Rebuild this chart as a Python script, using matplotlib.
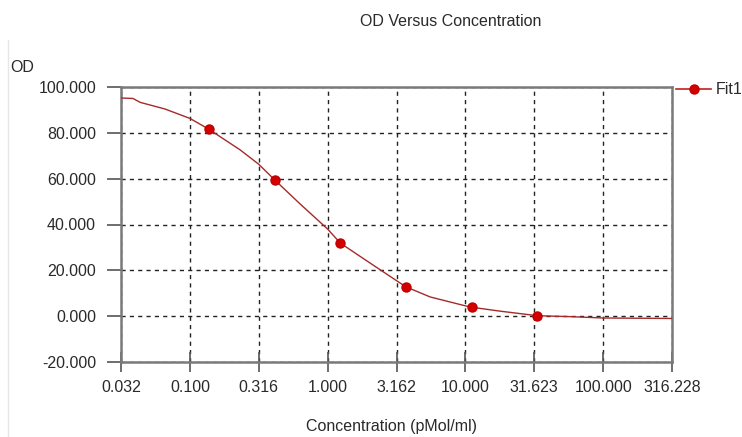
import matplotlib
matplotlib.use("Agg")
import matplotlib.pyplot as plt
from matplotlib.lines import Line2D

plt.rcParams['font.family'] = ['Liberation Sans', 'DejaVu Sans']

# Data
point_conc = [0.137, 0.412, 1.235, 3.70, 11.1, 33.3]
point_od = [81.6, 59.5, 31.9, 12.8, 3.9, 0.2]

curve_conc = [0.0316, 0.0386, 0.0435, 0.0659, 0.1, 0.137, 0.231, 0.316, 0.412,
              0.63, 1.0, 1.235, 2.03, 3.162, 3.70, 5.54, 10.0, 11.1, 17.8,
              33.3, 57.5, 100.0, 316.228]
curve_od = [95.2, 95.0, 93.3, 90.4, 86.3, 81.6, 72.6, 66.3, 59.5,
            49.0, 38.0, 31.9, 23.2, 15.5, 12.8, 8.4, 4.5, 3.9, 2.2,
            0.2, -0.2, -0.8, -1.0]

x_ticks = [0.0316, 0.1, 0.316, 1.0, 3.162, 10.0, 31.623, 100.0, 316.228]
x_tick_labels = ['0.032', '0.100', '0.316', '1.000', '3.162', '10.000',
                 '31.623', '100.000', '316.228']
y_ticks = [-20, 0, 20, 40, 60, 80, 100]
y_tick_labels = ['-20.000', '0.000', '20.000', '40.000', '60.000', '80.000', '100.000']

FS = 11.5
W, H = 742, 437
fig = plt.figure(figsize=(W / 100, H / 100), dpi=100)
ax = fig.add_axes([121 / W, 1 - 362 / H, (672 - 121) / W, (362 - 87) / H])

ax.set_xscale('log')
ax.set_xlim(x_ticks[0], x_ticks[-1])
ax.set_ylim(-20, 100)
ax.set_xticks(x_ticks)
ax.set_xticklabels(x_tick_labels)
ax.minorticks_off()
ax.set_yticks(y_ticks)
ax.set_yticklabels(y_tick_labels)

ax.grid(True, color='#222222', linestyle=(0, (3, 3)), linewidth=1.0)
ax.set_axisbelow(True)

for s in ax.spines.values():
    s.set_color('#7a7a7a')
    s.set_linewidth(1.8)

ax.tick_params(axis='both', colors='#555555', labelcolor='#2a2a2a',
               labelsize=FS, width=1.2)
ax.tick_params(axis='x', direction='inout', length=14, pad=6)
ax.tick_params(axis='y', direction='out', length=10, pad=8)

ax.plot(curve_conc, curve_od, color='#a52a2a', linewidth=1.0, zorder=3)
ax.plot(point_conc, point_od, linestyle='none', marker='o', markersize=6.5,
        color='#d40000', markeredgecolor='#c00000', zorder=4)

handle = Line2D([], [], color='#c02020', linewidth=1.2, marker='o',
                markersize=6.5, markerfacecolor='#d40000', markeredgecolor='#c00000')
leg = ax.legend([handle], ['Fit1'], loc='center left',
                bbox_to_anchor=(673 / W, 1 - 90 / H), bbox_transform=fig.transFigure,
                frameon=False, handlelength=2.2, fontsize=FS, handletextpad=0.3,
                borderaxespad=0.0, borderpad=0.2)
for t in leg.get_texts():
    t.set_color('#2a2a2a')

fig.text(451 / W, 1 - 22 / H, 'OD Versus Concentration', ha='center', va='center',
         fontsize=FS, color='#2a2a2a')
fig.text(10 / W, 1 - 68 / H, 'OD', ha='left', va='center', fontsize=FS, color='#2a2a2a')
fig.text(392 / W, 1 - 427 / H, 'Concentration (pMol/ml)', ha='center', va='center',
         fontsize=FS, color='#2a2a2a')

fig.add_artist(Line2D([8 / W, 8 / W], [0, 1 - 40 / H], transform=fig.transFigure,
                      color='#e6e6e6', linewidth=1.0))

fig.savefig('out.png', dpi=100)
